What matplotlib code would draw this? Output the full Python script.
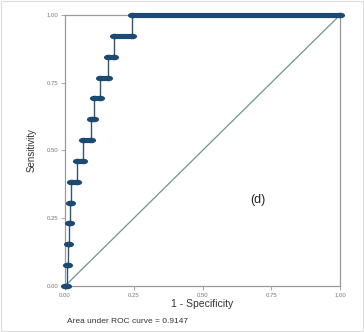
import matplotlib
matplotlib.use("Agg")
import matplotlib.pyplot as plt
import numpy as np
from matplotlib.path import Path
from matplotlib.transforms import Affine2D

# ROC curve: sensitivity levels and the 1-specificity
# value where each level starts (the last one runs on to 1.0)
sens_levels = [0.0, 0.077, 0.154, 0.231, 0.308, 0.385, 0.462, 0.538,
               0.615, 0.692, 0.769, 0.846, 0.923, 1.0]
fpr_start = [0.0, 0.008, 0.011, 0.014, 0.017, 0.021, 0.042, 0.064,
             0.095, 0.105, 0.127, 0.155, 0.178, 0.245]
fpr_end = fpr_start[1:] + [1.0]
ticks = [0.0, 0.25, 0.5, 0.75, 1.0]
tick_labels = ["0.00", "0.25", "0.50", "0.75", "1.00"]
auc_text = "Area under ROC curve = 0.9147"
panel = "(d)"

navy = "#1d4a72"
grey = "#9a9a9a"
plt.rcParams['font.family'] = ['Liberation Sans', 'DejaVu Sans']

fig = plt.figure(figsize=(3.64, 3.32), dpi=100)
ax = fig.add_axes([0.1786, 0.1386, 0.7555, 0.8162])

# thin step line
xs, ys = [], []
for s, a, b in zip(sens_levels, fpr_start, fpr_end):
    xs += [a, b]
    ys += [s, s]
ax.plot(xs, ys, color="#2f5778", lw=1.0, zorder=3)

# dense marker clusters -> thick bars with oval ends
for s, a, b in zip(sens_levels, fpr_start, fpr_end):
    ax.plot([a, b], [s, s], color=navy, lw=3.7, solid_capstyle='butt',
            zorder=4, clip_on=False)
oval = Path.unit_circle().transformed(Affine2D().scale(1.0, 0.6))
ax.plot(fpr_start + fpr_end, sens_levels + sens_levels, ls='none', marker=oval,
        ms=6.6, mew=0, color=navy, zorder=5, clip_on=False)

# reference line
ax.plot([0, 1], [0, 1], color="#6f9689", lw=0.9, zorder=2)

ax.set_xlim(0, 1)
ax.set_ylim(0, 1)
ax.set_xticks(ticks)
ax.set_xticklabels(tick_labels)
ax.set_yticks(ticks)
ax.set_yticklabels(tick_labels)
ax.tick_params(labelsize=4.3, colors="#777777", length=3, width=0.6, color=grey, pad=2)
for sp in ax.spines.values():
    sp.set_color(grey)
    sp.set_linewidth(0.9)

ax.set_ylabel("Sensitivity", fontsize=7, color="#333333", labelpad=7)
ax.set_xlabel("1 - Specificity", fontsize=7.5, color="#333333", labelpad=1)
fig.text(0.184, 0.033, auc_text, fontsize=6, color="#333333", va='center')
ax.text(0.70, 0.318, panel, fontsize=9, color="#222222", ha='center', va='center')

fig.patches.append(plt.Rectangle((0.003, 0.003), 0.994, 0.994, transform=fig.transFigure,
                                 fill=False, edgecolor="#dddddd", lw=0.8))

fig.savefig("out.png", dpi=100, facecolor="white")
